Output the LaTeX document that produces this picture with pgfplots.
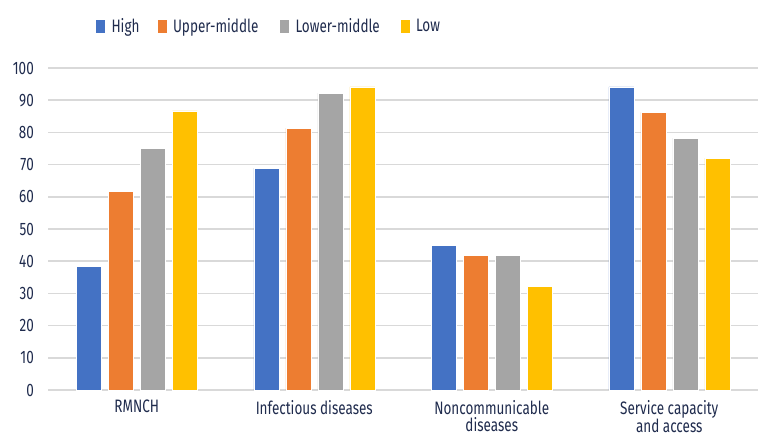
\documentclass[border=0pt]{standalone}
\usepackage{fontspec}
\setmainfont{Fira Sans}[FakeStretch=0.75]
\usepackage{pgfplots}
\pgfplotsset{compat=1.18}
\definecolor{hiC}{HTML}{4472C4}
\definecolor{umC}{HTML}{ED7D31}
\definecolor{lmC}{HTML}{A5A5A5}
\definecolor{loC}{HTML}{FFC000}
\definecolor{txt}{HTML}{1F2B4D}
\definecolor{gridC}{HTML}{D9D9D9}
\pgfplotsset{sq legend/.style={legend image code/.code={\fill[##1] (0bp,-7bp) rectangle (10bp,7bp);}}}
\newcommand{\lbl}{\fontsize{18bp}{17bp}\selectfont\color{txt}}

\begin{document}
\begin{tikzpicture}
\path[use as bounding box] (-48bp,-44bp) rectangle (710bp,390bp);
\begin{axis}[
  at={(0,0)}, anchor=south west,
  scale only axis, width=710bp, height=322bp,
  ybar=7bp, bar width=25bp,
  every axis plot post/.append style={sq legend},
  ymin=0, ymax=100, ytick distance=10,
  xmin=-0.5, xmax=3.5, xtick=data,
  xticklabels={RMNCH, Infectious diseases, {Noncommunicable\\diseases}, {Service capacity\\and access}},
  x tick label style={align=center, font=\lbl, inner sep=0pt, anchor=north, yshift=-10bp},
  y tick label style={font=\lbl, inner sep=0pt, anchor=east, xshift=-14bp},
  /pgf/number format/assume math mode=true,
  axis line style={draw=none}, major tick length=0pt,
  ymajorgrids, grid style={gridC, line width=1.5bp},
  legend columns=4,
  legend style={at={(0.066,1.131)}, anchor=west, draw=none, fill=none, inner sep=0pt,
    font=\lbl, nodes={inner sep=0pt, anchor=west},
    /tikz/every odd column/.append style={column sep=6bp}},
]
\addplot[fill=hiC, draw=white, line width=0.5bp] coordinates {(0,38.3) (1,68.9) (2,45.0) (3,94.1)};
\addplot[fill=umC, draw=white, line width=0.5bp] coordinates {(0,61.6) (1,81.3) (2,41.9) (3,86.2)};
\addplot[fill=lmC, draw=white, line width=0.5bp] coordinates {(0,75.0) (1,92.2) (2,41.9) (3,78.2)};
\addplot[fill=loC, draw=white, line width=0.5bp] coordinates {(0,86.7) (1,94.1) (2,32.1) (3,72.0)};
\legend{\makebox[45bp][l]{High}, \makebox[106bp][l]{Upper-middle}, \makebox[104bp][l]{Lower-middle}, Low}
\end{axis}
\end{tikzpicture}
\end{document}
